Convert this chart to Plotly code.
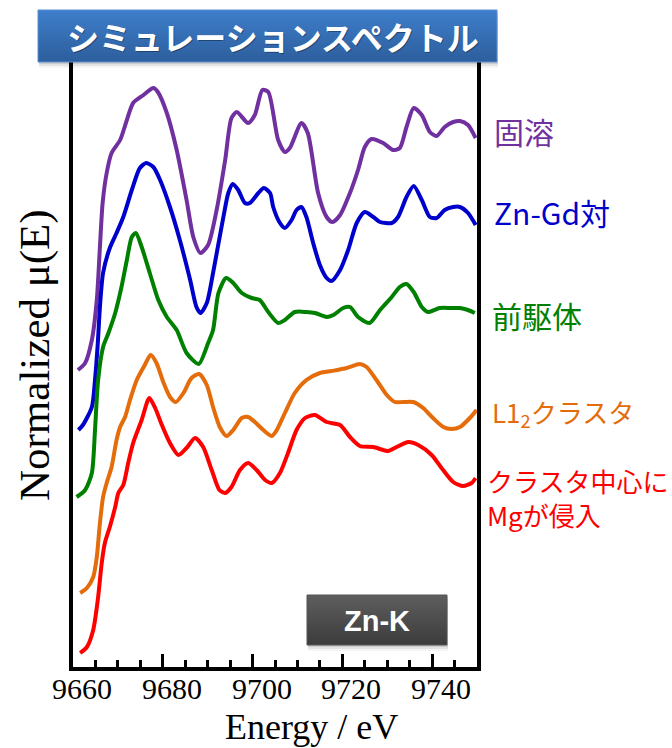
import plotly.graph_objects as go

# ---- spectra (energy in eV, normalized mu(E) with vertical offsets) ----
E_solid = [9661.1, 9662.7, 9664.2, 9665.3, 9666.0, 9666.6, 9667.5, 9668.6, 9670.5, 9672.0,
           9673.4, 9675.7, 9677.9, 9678.9, 9680.9, 9683.1, 9685.3, 9686.8, 9688.4, 9690.1,
           9692.0, 9693.9, 9695.3, 9696.5, 9699.0, 9700.5, 9702.2, 9703.5, 9705.7, 9707.2,
           9708.3, 9710.9, 9712.3, 9714.6, 9716.5, 9717.8, 9719.5, 9721.7, 9723.5, 9725.0,
           9726.5, 9729.1, 9731.3, 9732.8, 9734.3, 9735.9, 9737.7, 9739.5, 9741.0, 9742.8,
           9744.7, 9746.2, 9748.0, 9749.7]
mu_solid = [2.97, 3.04, 3.27, 3.67, 4.20, 4.64, 4.94, 5.14, 5.27, 5.47,
            5.64, 5.72, 5.79, 5.75, 5.54, 5.17, 4.67, 4.30, 4.14, 4.22,
            4.57, 5.07, 5.49, 5.55, 5.44, 5.52, 5.77, 5.75, 5.27, 5.15,
            5.19, 5.44, 5.34, 4.74, 4.50, 4.45, 4.52, 4.74, 4.97, 5.20,
            5.28, 5.24, 5.17, 5.19, 5.40, 5.59, 5.52, 5.35, 5.31, 5.40,
            5.45, 5.46, 5.42, 5.29]

E_pair = [9661.2, 9662.2, 9664.2, 9664.9, 9665.5, 9666.0, 9666.7, 9668.2, 9669.7, 9671.2,
          9673.1, 9674.9, 9676.3, 9677.9, 9679.4, 9681.6, 9683.8, 9686.1, 9687.5, 9688.4,
          9689.8, 9691.2, 9693.5, 9694.6, 9695.6, 9696.8, 9698.3, 9699.4, 9701.3, 9702.5,
          9703.9, 9704.6, 9706.1, 9707.2, 9708.7, 9709.8, 9710.9, 9712.0, 9713.5, 9715.0,
          9716.5, 9717.6, 9719.5, 9721.3, 9723.2, 9725.0, 9726.9, 9728.4, 9731.0, 9732.4,
          9734.3, 9735.9, 9737.7, 9739.5, 9741.0, 9742.8, 9744.7, 9746.2, 9748.0, 9749.7]
mu_pair = [2.37, 2.42, 2.60, 2.87, 3.22, 3.60, 3.94, 4.19, 4.34, 4.50,
           4.77, 4.99, 5.04, 5.00, 4.87, 4.60, 4.27, 3.87, 3.60, 3.54,
           3.64, 3.94, 4.50, 4.74, 4.83, 4.77, 4.64, 4.64, 4.74, 4.79,
           4.74, 4.60, 4.44, 4.39, 4.47, 4.57, 4.60, 4.50, 4.24, 4.02,
           3.89, 3.86, 3.97, 4.17, 4.44, 4.55, 4.50, 4.45, 4.44, 4.50,
           4.70, 4.81, 4.67, 4.50, 4.49, 4.57, 4.60, 4.60, 4.54, 4.42]

E_precursor = [9660.8, 9662.7, 9664.2, 9664.9, 9665.6, 9666.7, 9667.9, 9669.4, 9670.8, 9672.0,
               9673.1, 9674.0, 9675.3, 9677.1, 9679.0, 9680.9, 9683.1, 9685.3, 9688.0,
               9690.1, 9691.2, 9692.4, 9694.1, 9695.7, 9697.6, 9699.8, 9701.6, 9703.5, 9705.7,
               9707.2, 9709.4, 9712.0, 9713.9, 9716.5, 9718.0, 9720.2, 9721.7, 9723.5, 9726.1,
               9728.4, 9731.0, 9732.8, 9734.3, 9735.9, 9737.7, 9739.1, 9741.7, 9744.3, 9746.2,
               9748.0, 9749.5]
mu_precursor = [1.70, 1.77, 1.94, 2.37, 2.87, 3.20, 3.34, 3.54, 3.80, 4.07,
                4.30, 4.34, 4.20, 3.94, 3.67, 3.50, 3.37, 3.14, 3.03,
                3.24, 3.37, 3.74, 3.89, 3.84, 3.74, 3.69, 3.67, 3.55, 3.44,
                3.47, 3.55, 3.55, 3.54, 3.50, 3.52, 3.59, 3.60, 3.50, 3.44,
                3.57, 3.70, 3.80, 3.83, 3.75, 3.60, 3.55, 3.59, 3.59, 3.59,
                3.57, 3.54]

E_l12 = [9661.6, 9663.1, 9664.5, 9665.3, 9666.0, 9666.7, 9667.5, 9668.6, 9669.7, 9670.5,
         9671.6, 9672.7, 9674.2, 9676.0, 9677.3, 9678.6, 9680.1, 9681.6, 9682.9, 9684.6,
         9686.4, 9688.1, 9689.8, 9691.2, 9692.7, 9694.2, 9695.7, 9697.6, 9699.0, 9700.5,
         9702.4, 9704.3, 9705.4, 9707.2, 9709.4, 9712.0, 9715.0, 9717.6, 9721.0, 9723.9,
         9725.4, 9727.6, 9729.9, 9731.7, 9733.6, 9735.8, 9738.0, 9740.2, 9742.5, 9744.3,
         9746.2, 9748.4, 9749.9]
mu_l12 = [0.74, 0.79, 0.90, 1.10, 1.44, 1.70, 1.84, 2.00, 2.27, 2.40,
          2.50, 2.67, 2.87, 3.02, 3.12, 3.04, 2.85, 2.70, 2.65, 2.74,
          2.89, 2.93, 2.82, 2.60, 2.40, 2.31, 2.37, 2.49, 2.50, 2.45,
          2.37, 2.31, 2.37, 2.54, 2.74, 2.87, 2.94, 2.96, 2.99, 3.03,
          3.00, 2.87, 2.72, 2.65, 2.65, 2.65, 2.59, 2.49, 2.40, 2.38,
          2.40, 2.49, 2.57]

E_mg = [9661.6, 9663.1, 9664.5, 9665.6, 9666.4, 9667.1, 9668.2, 9669.4, 9670.1, 9671.2,
        9672.3, 9673.4, 9675.3, 9677.0, 9678.3, 9679.8, 9681.6, 9683.5, 9685.3, 9687.2,
        9689.0, 9690.9, 9692.6, 9693.9, 9695.3, 9697.2, 9699.0, 9700.9, 9702.8, 9704.3,
        9706.1, 9707.9, 9709.8, 9711.7, 9713.9, 9716.5, 9719.5, 9721.7, 9723.9, 9726.9,
        9730.2, 9732.1, 9734.7, 9736.9, 9739.9, 9742.1, 9744.7, 9746.9, 9748.8, 9749.7]
mu_mg = [0.14, 0.20, 0.37, 0.70, 1.04, 1.24, 1.40, 1.60, 1.74, 1.82,
         2.04, 2.24, 2.47, 2.69, 2.59, 2.42, 2.24, 2.12, 2.19, 2.29,
         2.20, 1.97, 1.77, 1.74, 1.80, 1.97, 2.04, 1.97, 1.87, 1.84,
         1.94, 2.14, 2.37, 2.49, 2.52, 2.45, 2.42, 2.30, 2.21, 2.20,
         2.16, 2.20, 2.25, 2.22, 2.12, 1.99, 1.85, 1.81, 1.84, 1.89]

series = [
    ("固溶", E_solid, mu_solid, "#7030A0"),
    ("Zn-Gd対", E_pair, mu_pair, "#0000CC"),
    ("前駆体", E_precursor, mu_precursor, "#008000"),
    ("L1<sub>2</sub>クラスタ", E_l12, mu_l12, "#E46C0A"),
    ("クラスタ中心に<br>Mgが侵入", E_mg, mu_mg, "#FF0000"),
]

tick_vals = [9660, 9680, 9700, 9720, 9740]
tick_text = ["9660", "9680", "9700", "9720", "9740"]

W, H = 672, 748
# plot-area placement in page pixels
PX_L, PX_R, PX_T, PX_B = 73, 477, 40, 667

fig = go.Figure()

for name, xs, ys, col in series:
    fig.add_trace(go.Scatter(
        x=xs, y=ys, mode="lines", name=name,
        line=dict(color=col, width=4, shape="spline", smoothing=0.7),
        showlegend=False, hoverinfo="skip"))

# ---- decorative boxes on a full-page overlay axis (page pixel units) ----
def box(x0, y0, x1, y1, top, bottom, border):
    # soft drop shadow
    for i, a in enumerate([0.10, 0.07, 0.04]):
        d = 2 + 2 * i
        fig.add_trace(go.Scatter(
            x=[x0 + 1, x1 + 1, x1 + 1, x0 + 1, x0 + 1],
            y=[y0 + d, y0 + d, y1 + d, y1 + d, y0 + d],
            fill="toself", fillcolor=f"rgba(0,0,0,{a})", mode="lines",
            line=dict(width=0), xaxis="x2", yaxis="y2",
            showlegend=False, hoverinfo="skip"))
    fig.add_trace(go.Scatter(
        x=[x0, x1, x1, x0, x0], y=[y0, y0, y1, y1, y0],
        fill="toself", mode="lines",
        fillgradient=dict(type="vertical", start=y0, stop=y1,
                          colorscale=[[0, top], [1, bottom]]),
        line=dict(color=border, width=1), xaxis="x2", yaxis="y2",
        showlegend=False, hoverinfo="skip"))

box(38, 10, 497, 62, "#3E7ECB", "#2D5E9C", "#5A8FD2")
box(307, 595, 447, 645, "#5E5E5E", "#3C3C3C", "#555555")

annotations = []

def text(x, y, s, size, color, family, bold=False, anchor="center", angle=0, xref="x2", xshift=0):
    annotations.append(dict(
        x=x, y=y, xref=xref, yref="y2", text=f"<b>{s}</b>" if bold else s,
        showarrow=False, xanchor=anchor, yanchor="middle", textangle=angle, xshift=xshift,
        font=dict(size=size, color=color, family=family), align="left"))

# title bar text with a faint shadow
text(274, 37, "シミュレーションスペクトル", 32, "rgba(0,0,0,0.35)", "Noto Sans CJK JP", bold=True)
text(273, 36, "シミュレーションスペクトル", 32, "white", "Noto Sans CJK JP", bold=True)
text(377, 621, "Zn-K", 29, "white", "Liberation Sans", bold=True)

# series labels at the right
label_style = [(492, 131, 30), (492, 212, 30), (490, 315, 30), (490, 413, 26), (485, 497, 26)]
for (name, _, _, col), (lx, ly, fs) in zip(series, label_style):
    text(lx, ly, name, fs, col, "Noto Sans CJK JP", anchor="left")

# energy tick labels, placed on the energy axis scale (set slightly right of each tick)
for v, t in zip(tick_vals, tick_text):
    text(v, 688, t, 30, "black", "Liberation Serif", xref="x", xshift=9)

# axis titles
text(311, 727, "Energy / eV", 36, "black", "Liberation Serif")
text(35, 355, "Normalized μ(E)", 43, "black", "Liberation Serif", angle=-90)

fig.update_layout(
    template="none",
    width=W, height=H,
    margin=dict(l=0, r=0, t=0, b=0, autoexpand=False),
    paper_bgcolor="white", plot_bgcolor="rgba(0,0,0,0)",
    annotations=annotations,
    xaxis=dict(
        domain=[PX_L / W, PX_R / W], range=[9660, 9750], automargin=False,
        showgrid=False, zeroline=False,
        showline=True, linecolor="black", linewidth=4,
        tickmode="array", tickvals=tick_vals, showticklabels=False,
        ticks="inside", ticklen=13, tickwidth=3, tickcolor="black",
        minor=dict(ticks="inside", ticklen=7, tickwidth=3, tickcolor="black",
                   dtick=5, tick0=9660, showgrid=False),
    ),
    yaxis=dict(
        domain=[(H - PX_B) / H, (H - PX_T) / H], range=[0, (PX_B - PX_T) / 100],
        automargin=False,
        showgrid=False, zeroline=False, showticklabels=False, ticks="",
        showline=True, linecolor="black", linewidth=4, mirror=True,
    ),
    xaxis2=dict(domain=[0, 1], range=[0, W], visible=False, fixedrange=True, automargin=False),
    yaxis2=dict(domain=[0, 1], range=[H, 0], visible=False, fixedrange=True, automargin=False),
)

fig.write_html("out.html")
